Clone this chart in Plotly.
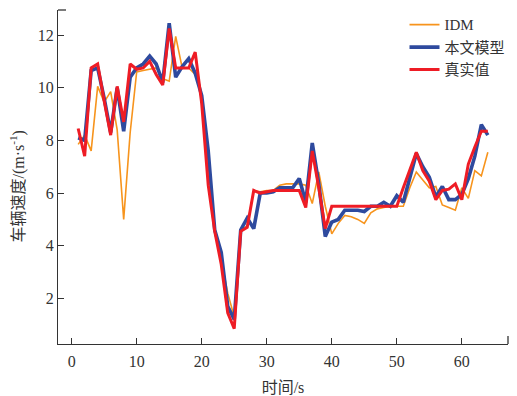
import plotly.graph_objects as go

t = list(range(1, 65))

idm = [7.85, 8.2, 7.6, 10.05, 9.45, 9.85, 8.4, 5.0, 8.3, 10.6,
       10.65, 10.7, 10.75, 10.35, 10.25, 11.95, 10.75, 10.75, 10.5, 9.7,
       7.2, 4.55, 3.5, 2.2, 1.3, 4.6, 4.75, 6.1, 6.05, 6.1,
       6.1, 6.3, 6.35, 6.35, 6.35, 6.3, 5.6, 6.8, 5.5, 4.45,
       4.85, 5.15, 5.1, 5.0, 4.85, 5.25, 5.4, 5.45, 5.5, 5.5,
       5.5, 6.2, 6.8, 6.5, 6.2, 6.25, 5.55, 5.45, 5.35, 6.2,
       5.8, 6.85, 6.65, 7.55]

model = [8.1, 8.0, 10.65, 10.75, 9.6, 8.3, 10.0, 8.35, 10.4, 10.75,
         10.9, 11.2, 10.9, 10.2, 12.45, 10.4, 10.8, 11.1, 10.55, 9.7,
         7.6, 4.6, 3.75, 1.7, 1.2, 4.6, 5.05, 4.65, 6.0, 6.0,
         6.05, 6.2, 6.2, 6.2, 6.55, 5.65, 7.9, 6.35, 4.35, 4.9,
         5.0, 5.35, 5.35, 5.35, 5.3, 5.5, 5.5, 5.65, 5.5, 5.9,
         5.65, 6.6, 7.5, 7.0, 6.6, 5.85, 6.25, 5.75, 5.75, 5.95,
         6.55, 7.4, 8.6, 8.2]

real = [8.45, 7.4, 10.75, 10.9, 9.5, 8.2, 10.05, 8.7, 10.9, 10.7,
        10.75, 11.0, 10.5, 10.1, 12.25, 10.75, 10.75, 10.75, 11.35, 9.4,
        6.3, 4.55, 3.3, 1.45, 0.85, 4.55, 4.7, 6.1, 6.0, 6.05,
        6.1, 6.1, 6.1, 6.1, 6.1, 5.45, 7.6, 6.2, 4.65, 5.5,
        5.5, 5.5, 5.5, 5.5, 5.5, 5.5, 5.5, 5.5, 5.5, 5.5,
        6.2, 6.9, 7.55, 6.85, 6.45, 5.75, 6.1, 6.15, 6.35, 5.75,
        7.1, 7.75, 8.35, 8.35]

names = ["IDM", "本文模型", "真实值"]
colors = ["#F7941D", "#2E4A9E", "#EE1C25"]
widths = [1.6, 3.6, 3.0]

fig = go.Figure()
for ys, n, c, w in zip([idm, model, real], names, colors, widths):
    fig.add_trace(go.Scatter(x=t, y=ys, mode="lines", name=n,
                             line=dict(color=c, width=w)))

font_fam = "Liberation Serif, Noto Sans CJK SC, serif"
axcol = "#333333"

fig.update_layout(
    width=517, height=396,
    margin=dict(l=58, r=9, t=10, b=52, autoexpand=False),
    paper_bgcolor="white", plot_bgcolor="white",
    font=dict(family=font_fam, size=16, color="#333333"),
    showlegend=True,
    legend=dict(x=0.77, y=1.005, xanchor="left", yanchor="top",
                bgcolor="rgba(0,0,0,0)", font=dict(size=15, family=font_fam),
                tracegroupgap=0, itemwidth=30),
    xaxis=dict(range=[-2.1, 67.1], tickvals=[0, 10, 20, 30, 40, 50, 60],
               ticks="inside", ticklen=6, tickwidth=1, tickcolor=axcol,
               showline=True, linecolor=axcol, linewidth=1.3,
               showgrid=False, zeroline=False, ticklabelstandoff=3,
               automargin=False,
               title=dict(text="时间/s", font=dict(size=16), standoff=12)),
    yaxis=dict(range=[0.27, 12.95], tickvals=[2, 4, 6, 8, 10, 12],
               ticks="inside", ticklen=6, tickwidth=1, tickcolor=axcol,
               showline=True, linecolor=axcol, linewidth=1.3,
               automargin=False,
               showgrid=False, zeroline=False),
)

fig.add_annotation(text="车辆速度/(m·s<sup>-1</sup>)", xref="paper", yref="paper",
                   x=-0.09, y=0.47, textangle=-90, showarrow=False,
                   xanchor="center", yanchor="middle",
                   font=dict(size=16, family=font_fam, color="#333333"))

# axis end caps
fig.add_shape(type="line", xref="paper", yref="paper", x0=0, x1=8/450, y0=1, y1=1,
              line=dict(color=axcol, width=1.3))
fig.add_shape(type="line", xref="paper", yref="paper", x0=1, x1=1, y0=0, y1=8/334,
              line=dict(color=axcol, width=1.3))

fig.write_html("out.html")
